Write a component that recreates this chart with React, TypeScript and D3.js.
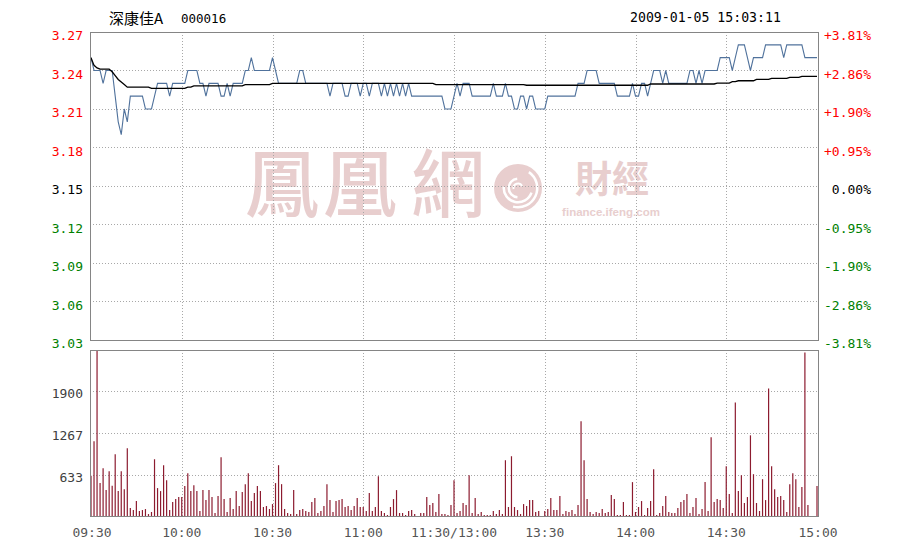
import { useRef, useEffect } from "react";
import * as d3 from "d3";

// 深康佳A 000016, 2009-01-05 intraday (one point per minute, 09:30 .. 15:00)
const prevClose = 3.15;
const priceTicks = [3.27, 3.24, 3.21, 3.18, 3.15, 3.12, 3.09, 3.06, 3.03];
const pctLabels = ["+3.81%", "+2.86%", "+1.90%", "+0.95%", "0.00%", "-0.95%", "-1.90%", "-2.86%", "-3.81%"];
const volTicks = [633, 1267, 1900];
const volMax = 2533;
const timeLabels = ["09:30", "10:00", "10:30", "11:00", "11:30/13:00", "13:30", "14:00", "14:30", "15:00"];
const timeIdx = [0, 30, 60, 90, 120, 150, 180, 210, 240];

const price = [
    3.25, 3.24, 3.24, 3.24, 3.23, 3.24, 3.24, 3.24, 3.22, 3.20,
    3.19, 3.21, 3.20, 3.22, 3.22, 3.22, 3.22, 3.22, 3.21, 3.21,
    3.21, 3.22, 3.23, 3.23, 3.23, 3.23, 3.22, 3.23, 3.23, 3.23,
    3.23, 3.23, 3.24, 3.24, 3.24, 3.24, 3.23, 3.23, 3.22, 3.23,
    3.23, 3.23, 3.23, 3.22, 3.22, 3.23, 3.22, 3.23, 3.23, 3.23,
    3.23, 3.24, 3.24, 3.25, 3.24, 3.24, 3.24, 3.24, 3.24, 3.24,
    3.25, 3.24, 3.23, 3.23, 3.23, 3.23, 3.23, 3.23, 3.23, 3.24,
    3.24, 3.23, 3.23, 3.23, 3.23, 3.23, 3.23, 3.23, 3.23, 3.22,
    3.23, 3.23, 3.23, 3.23, 3.22, 3.22, 3.23, 3.23, 3.23, 3.22,
    3.23, 3.23, 3.22, 3.23, 3.23, 3.23, 3.22, 3.23, 3.22, 3.23,
    3.22, 3.23, 3.22, 3.23, 3.22, 3.23, 3.22, 3.22, 3.22, 3.22,
    3.22, 3.22, 3.22, 3.22, 3.22, 3.22, 3.22, 3.21, 3.21, 3.21,
    3.22, 3.23, 3.22, 3.23, 3.23, 3.23, 3.22, 3.22, 3.22, 3.22,
    3.22, 3.22, 3.22, 3.23, 3.22, 3.22, 3.22, 3.23, 3.22, 3.22,
    3.21, 3.21, 3.22, 3.22, 3.21, 3.22, 3.22, 3.21, 3.21, 3.21,
    3.21, 3.22, 3.22, 3.22, 3.22, 3.22, 3.22, 3.22, 3.22, 3.22,
    3.22, 3.23, 3.23, 3.23, 3.24, 3.24, 3.24, 3.24, 3.23, 3.23,
    3.23, 3.23, 3.23, 3.23, 3.22, 3.22, 3.22, 3.22, 3.22, 3.23,
    3.22, 3.22, 3.23, 3.23, 3.22, 3.23, 3.24, 3.24, 3.24, 3.23,
    3.24, 3.23, 3.23, 3.23, 3.23, 3.23, 3.23, 3.23, 3.24, 3.24,
    3.23, 3.24, 3.23, 3.24, 3.24, 3.24, 3.24, 3.24, 3.25, 3.25,
    3.25, 3.25, 3.24, 3.25, 3.26, 3.26, 3.26, 3.25, 3.24, 3.25,
    3.25, 3.25, 3.25, 3.26, 3.26, 3.26, 3.26, 3.26, 3.26, 3.25,
    3.26, 3.26, 3.26, 3.26, 3.26, 3.26, 3.25, 3.25, 3.25, 3.25,
    3.25
];

const avgPrice = [
    3.250, 3.244, 3.242, 3.241, 3.241, 3.241, 3.241, 3.239, 3.236, 3.233,
    3.231, 3.229, 3.227, 3.227, 3.227, 3.227, 3.227, 3.227, 3.227, 3.227,
    3.226, 3.226, 3.226, 3.226, 3.226, 3.226, 3.226, 3.226, 3.226, 3.226,
    3.226, 3.226, 3.227, 3.227, 3.228, 3.228, 3.228, 3.228, 3.228, 3.228,
    3.228, 3.228, 3.228, 3.228, 3.228, 3.228, 3.228, 3.228, 3.228, 3.228,
    3.228, 3.229, 3.229, 3.229, 3.229, 3.229, 3.229, 3.229, 3.229, 3.229,
    3.230, 3.230, 3.230, 3.230, 3.230, 3.230, 3.230, 3.230, 3.230, 3.230,
    3.230, 3.230, 3.230, 3.230, 3.230, 3.230, 3.230, 3.230, 3.230, 3.230,
    3.230, 3.230, 3.230, 3.230, 3.230, 3.230, 3.230, 3.230, 3.230, 3.230,
    3.230, 3.230, 3.230, 3.230, 3.230, 3.230, 3.230, 3.230, 3.230, 3.230,
    3.230, 3.230, 3.230, 3.230, 3.230, 3.230, 3.230, 3.230, 3.230, 3.230,
    3.230, 3.230, 3.230, 3.230, 3.229, 3.229, 3.229, 3.229, 3.229, 3.229,
    3.229, 3.229, 3.229, 3.229, 3.229, 3.229, 3.229, 3.229, 3.229, 3.229,
    3.229, 3.229, 3.229, 3.229, 3.229, 3.229, 3.229, 3.229, 3.229, 3.229,
    3.229, 3.229, 3.229, 3.229, 3.2285, 3.2285, 3.2285, 3.2285, 3.2285, 3.2285,
    3.2285, 3.2285, 3.2285, 3.2285, 3.2285, 3.2285, 3.2285, 3.2285, 3.2285, 3.2285,
    3.2285, 3.2285, 3.2285, 3.2285, 3.2285, 3.2285, 3.2285, 3.2285, 3.2285, 3.2285,
    3.2285, 3.2285, 3.2285, 3.2285, 3.2285, 3.2285, 3.2285, 3.2285, 3.2285, 3.2285,
    3.2285, 3.2285, 3.2285, 3.2285, 3.2285, 3.2295, 3.2295, 3.2295, 3.2295, 3.2295,
    3.2295, 3.2295, 3.2295, 3.2295, 3.2295, 3.2295, 3.2295, 3.2295, 3.2295, 3.2295,
    3.2295, 3.2295, 3.2295, 3.2295, 3.2295, 3.2295, 3.2295, 3.2302, 3.2302, 3.2302,
    3.2302, 3.2302, 3.2313, 3.2313, 3.2320, 3.2320, 3.2320, 3.2320, 3.2320, 3.2320,
    3.2331, 3.2331, 3.2331, 3.2331, 3.2331, 3.2339, 3.2339, 3.2339, 3.2339, 3.2339,
    3.2339, 3.2347, 3.2347, 3.2347, 3.2347, 3.2355, 3.2355, 3.2355, 3.2355, 3.2355,
    3.2355
];

const volume = [
    613, 1140, 2523, 502, 730, 395, 684, 461, 942, 380,
    684, 410, 1034, 122, 91, 228, 76, 91, 106, 30,
    61, 866, 426, 380, 775, 547, 91, 213, 258, 289,
    289, 456, 654, 380, 471, 380, 76, 395, 243, 395,
    289, 46, 304, 897, 258, 61, 274, 106, 380, 152,
    365, 486, 654, 228, 350, 456, 380, 137, 152, 106,
    182, 502, 775, 486, 106, 46, 30, 395, 30, 91,
    106, 76, 61, 213, 274, 46, 76, 152, 486, 243,
    61, 228, 243, 258, 137, 152, 91, 152, 274, 137,
    137, 76, 350, 76, 137, 608, 76, 46, 15, 137,
    258, 395, 46, 46, 15, 76, 91, 30, 0, 46,
    46, 289, 167, 198, 61, 334, 30, 30, 15, 167,
    547, 46, 76, 198, 167, 623, 46, 274, 30, 61,
    15, 15, 15, 76, 30, 91, 30, 851, 137, 912,
    137, 91, 30, 182, 152, 243, 243, 61, 76, 0,
    76, 106, 274, 91, 91, 304, 30, 76, 61, 91,
    30, 167, 1444, 851, 258, 61, 30, 61, 46, 106,
    46, 61, 319, 258, 15, 15, 213, 15, 15, 517,
    61, 137, 228, 15, 122, 228, 714, 15, 46, 152,
    304, 61, 46, 46, 122, 213, 243, 334, 46, 137,
    274, 30, 106, 517, 76, 1201, 213, 258, 243, 122,
    760, 334, 46, 1733, 380, 623, 198, 289, 1231, 638,
    198, 76, 562, 243, 1946, 760, 410, 289, 304, 243,
    61, 486, 654, 562, 137, 441, 2493, 167, 0, 0,
    456
];

const W = 914;
const H = 548;
const left = 90;
const right = 818;
const priceTop = 32;
const priceBottom = 340;
const volTop = 350;
const volBottom = 516;

const MONO = "'DejaVu Sans Mono', monospace";
const CJK = "'Noto Sans CJK TC', 'Noto Sans CJK SC', sans-serif";
const WM_COLOR = "#e8cece";

function labelColor(p: number) {
    if (p > prevClose + 1e-9) return "#ff0000";
    if (p < prevClose - 1e-9) return "#008000";
    return "#000000";
}

export default function App() {
    const svgRef = useRef<SVGSVGElement>(null);

    useEffect(() => {
        const svg = d3.select<SVGSVGElement, unknown>(svgRef.current as SVGSVGElement);
        svg.selectAll("*").remove();

        const x = d3.scaleLinear().domain([0, 240]).range([91, 817]);
        const y = d3.scaleLinear().domain([3.03, 3.27]).range([priceBottom, priceTop]);
        const yv = d3.scaleLinear().domain([0, volMax]).range([volBottom, volTop]);

        svg.append("rect").attr("width", W).attr("height", H).attr("fill", "#fff");

        // watermark (sits behind the grid)
        const wm = svg.append("g").attr("fill", WM_COLOR);
        const wmChars = ["鳳", "凰", "網"];
        const wmX = [282, 360, 448];
        wm.selectAll("text.wm")
            .data(wmChars)
            .join("text")
            .attr("class", "wm")
            .attr("x", (d, i) => wmX[i])
            .attr("y", 211)
            .attr("text-anchor", "middle")
            .style("font-family", CJK)
            .style("font-weight", "500")
            .style("font-size", "74px")
            .text(d => d);

        // swirl logo
        const logo = wm.append("g").attr("transform", "translate(518,188)");
        logo.append("circle").attr("r", 24).attr("fill", WM_COLOR);
        const swirl = d3.arc<any>();
        [[18, 20.5, 0.6, 3.4], [13, 15.5, 1.9, 4.8], [8, 10.5, 3.2, 6.2], [3.5, 5.5, 4.5, 7.4]].forEach(([r0, r1, a0, a1]) => {
            logo.append("path")
                .attr("d", swirl({ innerRadius: r0, outerRadius: r1, startAngle: a0, endAngle: a1 }) as string)
                .attr("fill", "#fff");
        });

        wm.append("text")
            .attr("x", 612)
            .attr("y", 193)
            .attr("text-anchor", "middle")
            .style("font-family", CJK)
            .style("font-weight", "700")
            .style("font-size", "37px")
            .text("財經");
        wm.append("text")
            .attr("x", 611)
            .attr("y", 216)
            .attr("text-anchor", "middle")
            .style("font-family", "'Liberation Sans', Arial, sans-serif")
            .style("font-weight", "700")
            .style("font-size", "11.5px")
            .text("finance.ifeng.com");

        // grid
        const grid = svg.append("g")
            .attr("stroke", "#a8a8a8")
            .attr("stroke-width", 1)
            .attr("stroke-dasharray", "1,2")
            .attr("shape-rendering", "crispEdges");

        grid.selectAll("line.hp")
            .data(priceTicks.slice(1, -1))
            .join("line")
            .attr("class", "hp")
            .attr("x1", left).attr("x2", right)
            .attr("y1", d => Math.round(y(d)) + 0.5)
            .attr("y2", d => Math.round(y(d)) + 0.5);

        grid.selectAll("line.hv")
            .data(volTicks)
            .join("line")
            .attr("class", "hv")
            .attr("x1", left).attr("x2", right)
            .attr("y1", d => Math.round(yv(d)) + 0.5)
            .attr("y2", d => Math.round(yv(d)) + 0.5);

        const innerIdx = timeIdx.slice(1, -1);
        grid.selectAll("line.vp")
            .data(innerIdx)
            .join("line")
            .attr("class", "vp")
            .attr("x1", d => Math.round(x(d)) + 0.5).attr("x2", d => Math.round(x(d)) + 0.5)
            .attr("y1", priceTop).attr("y2", priceBottom);
        grid.selectAll("line.vv")
            .data(innerIdx)
            .join("line")
            .attr("class", "vv")
            .attr("x1", d => Math.round(x(d)) + 0.5).attr("x2", d => Math.round(x(d)) + 0.5)
            .attr("y1", volTop).attr("y2", volBottom);

        // volume bars
        svg.append("g")
            .attr("stroke", "#8c1b2f")
            .attr("stroke-width", 1.2)
            .selectAll("line")
            .data(volume)
            .join("line")
            .attr("x1", (d, i) => x(i)).attr("x2", (d, i) => x(i))
            .attr("y1", volBottom)
            .attr("y2", d => yv(d));

        // price + average lines
        const line = d3.line<number>().x((d, i) => x(i)).y(d => y(d));
        svg.append("path")
            .datum(price)
            .attr("d", line)
            .attr("fill", "none")
            .attr("stroke", "#50729c")
            .attr("stroke-width", 1.1);
        svg.append("path")
            .datum(avgPrice)
            .attr("d", line)
            .attr("fill", "none")
            .attr("stroke", "#000")
            .attr("stroke-width", 1.3);

        // frames
        const frame = svg.append("g")
            .attr("fill", "none")
            .attr("stroke", "#858585")
            .attr("stroke-width", 1)
            .attr("shape-rendering", "crispEdges");
        frame.append("rect")
            .attr("x", left + 0.5).attr("y", priceTop + 0.5)
            .attr("width", right - left).attr("height", priceBottom - priceTop);
        frame.append("rect")
            .attr("x", left + 0.5).attr("y", volTop + 0.5)
            .attr("width", right - left).attr("height", volBottom - volTop);

        // axis labels
        const labels = svg.append("g").style("font-family", MONO).style("font-size", "13px");
        labels.selectAll("text.pl")
            .data(priceTicks)
            .join("text")
            .attr("class", "pl")
            .attr("x", 83)
            .attr("y", d => y(d) + 8)
            .attr("text-anchor", "end")
            .attr("fill", d => labelColor(d))
            .text(d => d.toFixed(2));
        labels.selectAll("text.pr")
            .data(priceTicks)
            .join("text")
            .attr("class", "pr")
            .attr("x", 871)
            .attr("y", d => y(d) + 8)
            .attr("text-anchor", "end")
            .attr("fill", d => labelColor(d))
            .text((d, i) => pctLabels[i]);
        labels.selectAll("text.vl")
            .data(volTicks)
            .join("text")
            .attr("class", "vl")
            .attr("x", 83)
            .attr("y", d => yv(d) + 7)
            .attr("text-anchor", "end")
            .attr("fill", "#404040")
            .text(d => String(d));
        labels.selectAll("text.tl")
            .data(timeIdx)
            .join("text")
            .attr("class", "tl")
            .attr("x", d => x(d) + (d === 0 || d === 240 ? 1 : 0))
            .attr("y", 537)
            .attr("text-anchor", "middle")
            .attr("fill", "#555")
            .text((d, i) => timeLabels[i]);

        // title
        svg.append("text")
            .attr("x", 109).attr("y", 24)
            .style("font-family", "'Noto Sans CJK SC', sans-serif")
            .style("font-size", "15px")
            .attr("fill", "#000")
            .text("深康佳A");
        svg.append("text")
            .attr("x", 181).attr("y", 23)
            .style("font-family", MONO)
            .style("font-size", "12.5px")
            .attr("fill", "#000")
            .text("000016");
        svg.append("text")
            .attr("x", 630).attr("y", 22)
            .style("font-family", MONO)
            .style("font-size", "13.2px")
            .attr("fill", "#000")
            .text("2009-01-05 15:03:11");
    }, []);

    return (
        <svg
            ref={svgRef}
            width={W}
            height={H}
            style={{ display: "block", position: "absolute", left: 0, top: 0 }}
        />
    );
}
